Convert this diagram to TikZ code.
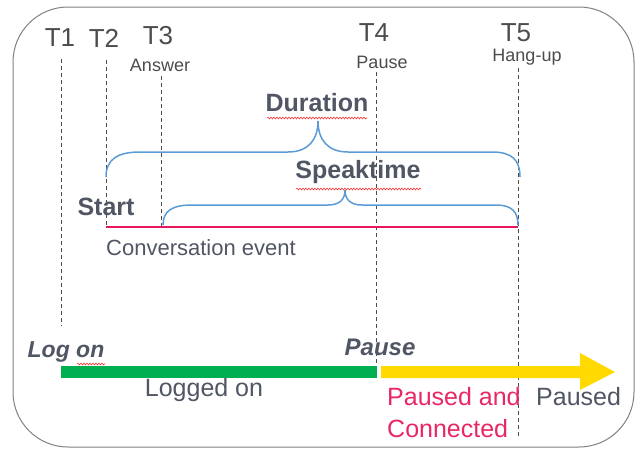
\documentclass[tikz,border=0pt]{standalone}
\usepackage{fontspec}
\setmainfont{Liberation Sans}
\usepackage{tikz}
\usetikzlibrary{decorations.pathmorphing}

\definecolor{frameGray}{RGB}{128,128,128}
\definecolor{textGray}{RGB}{80,86,100}
\definecolor{braceBlue}{RGB}{91,155,213}
\definecolor{eventRed}{RGB}{232,23,93}
\definecolor{onGreen}{RGB}{0,176,80}
\definecolor{pauseYellow}{RGB}{255,217,0}
\definecolor{pinkText}{RGB}{232,40,100}

\tikzset{
	tline/.style={dash pattern=on 4pt off 3pt, line width=0.8pt, draw=black!70},
	tlabel/.style={text=black!70, font=\fontsize{26}{28}\selectfont, inner sep=0pt},
	tsub/.style={text=black!70, font=\fontsize{18}{20}\selectfont, inner sep=0pt},
	bigbold/.style={text=textGray, font=\fontsize{25}{27}\selectfont\bfseries, inner sep=0pt},
	plain/.style={text=textGray, font=\fontsize{25}{27}\selectfont, inner sep=0pt},
	tbrace/.style={draw=braceBlue, line width=1.5pt},
	squiggle/.style={draw=red!80, line width=0.6pt, decorate, decoration={snake, segment length=3pt, amplitude=0.9pt}}
}

\begin{document}
\begin{tikzpicture}[x=1pt, y=-1pt]

	\useasboundingbox (0,0) rectangle (644,450);
	\draw[frameGray, line width=1pt, rounded corners=55pt] (13,7) rectangle (634,447);

	% time stamps
	\node[tlabel] (t1) at (60,38) {T1};
	\node[tlabel] (t2) at (104,38) {T2};
	\node[tlabel] (t3) at (158,36) {T3};
	\node[tlabel] (t4) at (374,33) {T4};
	\node[tlabel] (t5) at (516,33) {T5};
	\node[tsub] (answer) at (160,65) {Answer};
	\node[tsub] (pausetop) at (382,62) {Pause};
	\node[tsub] (hangup) at (527,57) {Hang-up};

	\coordinate (T1top) at (61,59);   \coordinate (T1bot) at (61,326);
	\coordinate (T2top) at (106,60);  \coordinate (T2bot) at (106,227);
	\coordinate (T3top) at (161,76);  \coordinate (T3bot) at (161,226);
	\coordinate (T4top) at (376,72);  \coordinate (T4bot) at (376,372);
	\coordinate (T5top) at (518,68);  \coordinate (T5bot) at (518,438);

	\draw[tline] (T1top) -- (T1bot);
	\draw[tline] (T2top) -- (T2bot);
	\draw[tline] (T3top) -- (T3bot);
	\draw[tline] (T4top) -- (T4bot);
	\draw[tline] (T5top) -- (T5bot);

	% braces
	\draw[tbrace] (106,177) .. controls (106,159) and (118,152) .. (140,152) -- (288,152)
		.. controls (308,152) and (318,140) .. (318,121)
		.. controls (318,140) and (328,152) .. (348,152) -- (492,152)
		.. controls (512,152) and (520,160) .. (520,177);
	\draw[tbrace] (163,225) .. controls (163,211) and (172,205) .. (192,205) -- (328,205)
		.. controls (340,205) and (345,199) .. (345,190)
		.. controls (345,199) and (350,205) .. (362,205) -- (496,205)
		.. controls (512,205) and (518,212) .. (518,225);

	\node[bigbold] (duration) at (317,103) {Duration};
	\node[bigbold] (speaktime) at (358,172) {Speaktime};
	\draw[squiggle] (267,118) -- (367,118);
	\draw[squiggle] (296,189) -- (421,189);

	% conversation event
	\node[bigbold] (start) at (106,207) {Start};
	\draw[eventRed, line width=2.5pt] (T2bot) -- (518,227);
	\node[plain, font=\fontsize{22}{24}\selectfont, anchor=west] (conv) at (106,248) {Conversation event};

	% agent state bar
	\fill[onGreen] (61,366) rectangle (377,378);
	\fill[pauseYellow] (381,366) -- (580,366) -- (580,353) -- (615,372)
		-- (580,390) -- (580,378) -- (381,378) -- cycle;

	\node[bigbold, font=\fontsize{23}{25}\selectfont\bfseries\itshape] (logon) at (66,352) {Log on};
	\node[bigbold, font=\fontsize{24}{26}\selectfont\bfseries\itshape] (pausebot) at (380,347) {Pause};
	\draw[squiggle] (77,364) -- (105,364);

	\node[plain] (loggedon) at (204,390) {Logged on};
	\node[plain, text=pinkText, anchor=west] (pausedand) at (387,397) {Paused and};
	\node[plain, text=pinkText, anchor=west] (connected) at (387,429) {Connected};
	\node[plain, anchor=west] (paused) at (536,397) {Paused};

\end{tikzpicture}
\end{document}
